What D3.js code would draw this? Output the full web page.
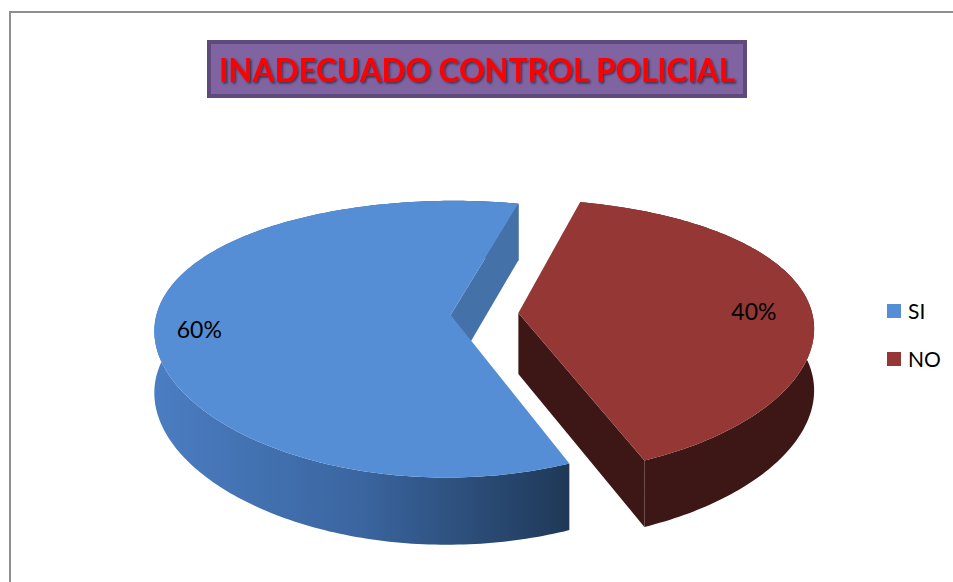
<!DOCTYPE html>
<html>
<head>
<meta charset="utf-8">
<script src="https://cdn.jsdelivr.net/npm/d3@7"></script>
<style>
  body { margin: 0; background: #fff; }
  svg { display: block; }
</style>
</head>
<body>
<div id="chart"></div>
<script>
// data
const categories = ["SI", "NO"];
const values = [60, 40];
const valueLabels = ["60%", "40%"];
const chartTitle = "INADECUADO CONTROL POLICIAL";

// look
const topColors = ["#558ed5", "#953735"];
const cutColors = ["#4571a9", "#3d1716"];
const sideColors = [null, "#3d1716"]; // SI side uses the gradient

const width = 953, height = 582;

// 3d pie projection settings
const CX = 484.5, CY = 314;
const RX = 294, RY = 133.8;
const PERSP = 0.174;
const DEPTH = 61;
const EXPLODE = 0.1155;
const START = 158 * Math.PI / 180;

const svg = d3.select("#chart").append("svg")
    .attr("width", width)
    .attr("height", height);

const defs = svg.append("defs");

const grad = defs.append("linearGradient")
    .attr("id", "sideBlue")
    .attr("gradientUnits", "userSpaceOnUse")
    .attr("x1", 155).attr("x2", 570).attr("y1", 0).attr("y2", 0);
grad.append("stop").attr("offset", "0%").attr("stop-color", "#4b7dc2");
grad.append("stop").attr("offset", "50%").attr("stop-color", "#3a659f");
grad.append("stop").attr("offset", "100%").attr("stop-color", "#1f3857");

const shadow = defs.append("filter").attr("id", "txtShadow")
    .attr("x", "-5%").attr("y", "-20%").attr("width", "110%").attr("height", "140%");
shadow.append("feDropShadow")
    .attr("dx", 1.5).attr("dy", 1.5).attr("stdDeviation", 1)
    .attr("flood-color", "#000").attr("flood-opacity", 0.55);

// chart frame
svg.append("rect")
    .attr("x", 10).attr("y", 12)
    .attr("width", width + 20).attr("height", height + 20)
    .attr("fill", "none")
    .attr("stroke", "#8f8f8f")
    .attr("stroke-width", 2);

// title
svg.append("rect")
    .attr("x", 209).attr("y", 42)
    .attr("width", 536).attr("height", 54)
    .attr("fill", "#8064a2")
    .attr("stroke", "#5f4a7d")
    .attr("stroke-width", 4);

svg.append("text")
    .attr("x", 219).attr("y", 82)
    .attr("textLength", 516)
    .attr("lengthAdjust", "spacingAndGlyphs")
    .attr("font-family", "Lato, 'Open Sans', sans-serif")
    .attr("font-weight", "bold")
    .attr("font-size", 33)
    .attr("fill", "#ff0000")
    .attr("filter", "url(#txtShadow)")
    .text(chartTitle);

// pie
const pieData = categories.map((c, i) => ({ name: c, value: values[i], label: valueLabels[i], i: i }));
const arcs = d3.pie()
    .sort(null)
    .value(d => d.value)
    .startAngle(START)
    .endAngle(START + 2 * Math.PI)(pieData);

// simple perspective: far side (z>0) shrinks
function proj(x, z, d) {
    const w = 1 + PERSP * z;
    return [CX + RX * x / Math.pow(w, 0.6), CY - RY * z / w + DEPTH * d / Math.sqrt(w)];
}

function area(pts) {
    let s = 0;
    for (let k = 0; k < pts.length; k++) {
        const p = pts[k], q = pts[(k + 1) % pts.length];
        s += p[0] * q[1] - q[0] * p[1];
    }
    return s;
}

const line = d3.line().curve(d3.curveLinearClosed);
const pieG = svg.append("g");

arcs.forEach(a => {
    const mid = (a.startAngle + a.endAngle) / 2;
    const ox = EXPLODE * Math.sin(mid), oz = EXPLODE * Math.cos(mid);
    const rim = (t, d) => proj(ox + Math.sin(t), oz + Math.cos(t), d);
    const center = d => proj(ox, oz, d);
    const steps = Math.ceil((a.endAngle - a.startAngle) / (Math.PI / 180));
    const angles = d3.range(steps + 1).map(k => a.startAngle + (a.endAngle - a.startAngle) * k / steps);

    const g = pieG.append("g");
    const i = a.data.i;

    // outer side
    const side = angles.map(t => rim(t, 0)).concat(angles.slice().reverse().map(t => rim(t, 1)));
    g.append("path")
        .attr("d", line(side))
        .attr("fill", sideColors[i] || "url(#sideBlue)");

    // cut faces, only the ones turned to the viewer
    const endFace = [center(0), rim(a.endAngle, 0), rim(a.endAngle, 1), center(1)];
    const startFace = [center(0), center(1), rim(a.startAngle, 1), rim(a.startAngle, 0)];
    [startFace, endFace].forEach(f => {
        if (area(f) > 0) {
            g.append("path").attr("d", line(f)).attr("fill", cutColors[i]);
        }
    });

    // top
    const top = [center(0)].concat(angles.map(t => rim(t, 0)));
    g.append("path")
        .attr("d", line(top))
        .attr("fill", topColors[i]);

    // value label
    const lp = proj(ox + 0.83 * Math.sin(mid), oz + 0.83 * Math.cos(mid), 0);
    svg.append("text")
        .attr("x", lp[0] - 6).attr("y", lp[1] + 6)
        .attr("text-anchor", "middle")
        .attr("dominant-baseline", "central")
        .attr("font-family", "Lato, 'Open Sans', sans-serif")
        .attr("font-size", 23)
        .attr("fill", "#000")
        .text(a.data.label);
});

// legend
const legend = svg.append("g").attr("transform", "translate(887,304)");
const items = legend.selectAll("g").data(categories).enter().append("g")
    .attr("transform", (d, i) => `translate(0,${i * 48})`);
items.append("rect")
    .attr("width", 14).attr("height", 14)
    .attr("fill", (d, i) => topColors[i]);
items.append("text")
    .attr("x", 21).attr("y", 14.5)
    .attr("font-family", "Lato, 'Open Sans', sans-serif")
    .attr("font-size", 21)
    .attr("fill", "#000")
    .text(d => d);
</script>
</body>
</html>
